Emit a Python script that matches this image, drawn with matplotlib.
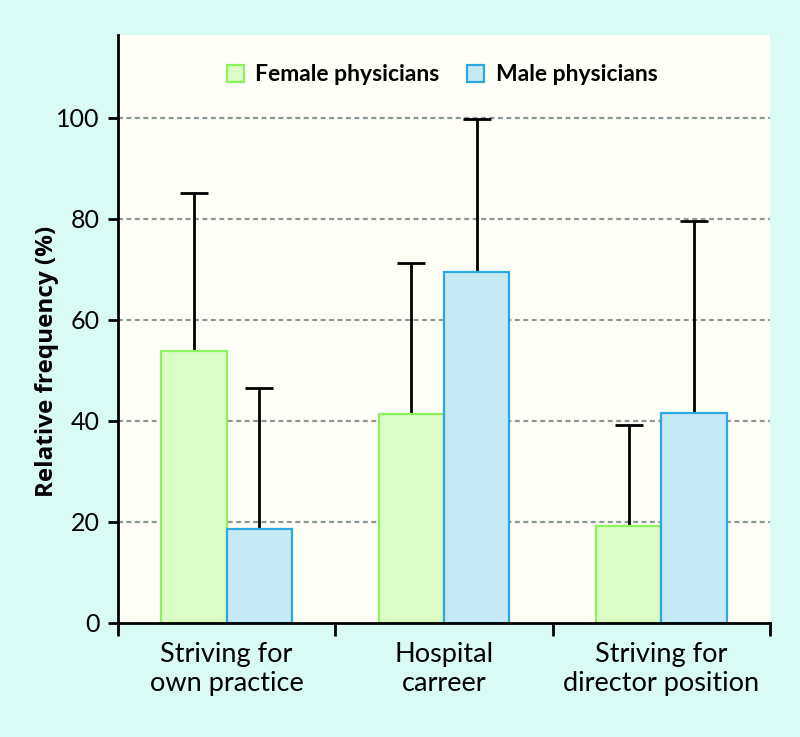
import numpy as np
import matplotlib
matplotlib.use("Agg")
import matplotlib.pyplot as plt
from matplotlib.patches import Patch

plt.rcParams["font.family"] = ["Lato", "DejaVu Sans"]

# ── Data ──────────────────────────────────────────────────────────────
categories = ["Striving for\nown practice", "Hospital\ncarreer", "Striving for\ndirector position"]
female_vals = [53.8, 41.4, 19.2]
female_err = [31.3, 29.8, 20.0]
male_vals = [18.6, 69.4, 41.6]
male_err = [28.0, 30.3, 37.9]
yticks = [0, 20, 40, 60, 80, 100]

FIG_BG = "#d9fbf6"
AX_BG = "#fffff7"
F_FILL, F_EDGE = "#dcfcc6", "#8ef25e"
M_FILL, M_EDGE = "#c6eaf4", "#2ea6e0"
GRID = "#8a9898"

fig = plt.figure(figsize=(8, 7.37), dpi=100)
fig.patch.set_facecolor(FIG_BG)
ax = fig.add_axes([0.1475, 0.1547, 0.815, 0.798])
ax.set_facecolor(AX_BG)

x = np.arange(len(categories)) + 0.5
w = 0.30

for y in yticks[1:]:
    ax.axhline(y, color=GRID, lw=1.6, ls=(0, (2.2, 1.6)), zorder=1)

ax.bar(x - w / 2, female_vals, w, color=F_FILL, edgecolor=F_EDGE, linewidth=1.6, zorder=3)
ax.bar(x + w / 2, male_vals, w, color=M_FILL, edgecolor=M_EDGE, linewidth=1.6, zorder=3)

ax.errorbar(x - w / 2, female_vals, yerr=[[0] * 3, female_err], fmt="none",
            ecolor="black", elinewidth=2, capsize=10, capthick=2, zorder=2)
ax.errorbar(x + w / 2, male_vals, yerr=[[0] * 3, male_err], fmt="none",
            ecolor="black", elinewidth=2, capsize=10, capthick=2, zorder=2)

ax.set_xlim(0, 3)
ax.set_ylim(0, 116.4)

for s in ["top", "right"]:
    ax.spines[s].set_visible(False)
for s in ["left", "bottom"]:
    ax.spines[s].set_linewidth(2)
    ax.spines[s].set_zorder(5)

ax.set_yticks(yticks)
ax.set_yticklabels([str(v) for v in yticks], fontsize=18)
ax.tick_params(axis="y", length=7, width=2, pad=6)

ax.set_xticks([0, 1, 2, 3])
ax.set_xticklabels([])
ax.tick_params(axis="x", length=9, width=2)
ax.set_xticks(x, minor=True)
ax.set_xticklabels(categories, minor=True, fontsize=19.5, linespacing=1.2)
ax.tick_params(axis="x", which="minor", length=0, pad=14)

ax.set_ylabel("Relative frequency (%)", fontsize=17.5, fontweight="bold",
              family=["Open Sans", "DejaVu Sans"])
ax.yaxis.set_label_coords(-0.09, 0.444)

handles = [Patch(facecolor=F_FILL, edgecolor=F_EDGE, linewidth=1.6, label="Female physicians"),
           Patch(facecolor=M_FILL, edgecolor=M_EDGE, linewidth=1.6, label="Male physicians")]
leg = ax.legend(handles=handles, ncol=2, loc="upper center", bbox_to_anchor=(0.497, 0.985),
                frameon=False, prop={"weight": "bold", "size": 16.5},
                handlelength=0.75, handleheight=0.75, handletextpad=0.5, columnspacing=1.2)

fig.savefig("out.png", dpi=100, facecolor=FIG_BG)
